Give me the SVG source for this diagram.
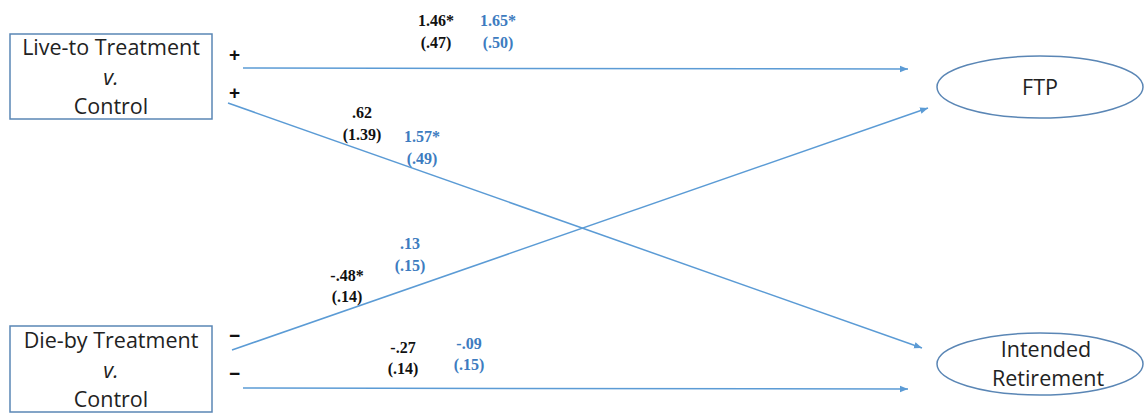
<svg xmlns="http://www.w3.org/2000/svg" width="1146" height="413" viewBox="0 0 1146 413">
<defs>
<style>
.box{fill:#fff;stroke:#5a86b5;stroke-width:1.5}
.lbl{font-family:"Open Sans","Liberation Sans",sans-serif;font-size:21.5px;fill:#222;text-anchor:middle}
.num{font-family:"Liberation Serif",serif;font-size:16px;font-weight:bold;text-anchor:middle;fill:#111}
.blue{fill:#3d7cc0}
.sign{font-family:"Liberation Sans",sans-serif;font-size:19px;font-weight:bold;fill:#111}
.edge{stroke:#5b9bd5;stroke-width:1.5;fill:none;marker-end:url(#ah)}
</style>
<marker id="ah" viewBox="0 0 10 10" refX="10" refY="5" markerWidth="8" markerHeight="8" orient="auto" markerUnits="userSpaceOnUse"><path d="M0,1 L10,5 L0,9 z" fill="#5b9bd5"/></marker>
</defs>
<rect width="1146" height="413" fill="#fff"/>
<g id="connectors">
<line class="edge" x1="243" y1="68" x2="908" y2="69"/>
<line class="edge" x1="228" y1="103" x2="922" y2="348"/>
<line class="edge" x1="232" y1="350" x2="928" y2="108"/>
<line class="edge" x1="243" y1="388" x2="908" y2="389"/>
</g>
<g id="live-to">
<rect class="box" x="10" y="34" width="202" height="85"/>
<text class="lbl" x="111" y="55">Live-to Treatment</text>
<text class="lbl" x="111" y="85" font-style="italic">v.</text>
<text class="lbl" x="111" y="114">Control</text>
</g>
<g id="die-by">
<rect class="box" x="10" y="326" width="202" height="86"/>
<text class="lbl" x="111" y="348">Die-by Treatment</text>
<text class="lbl" x="111" y="378" font-style="italic">v.</text>
<text class="lbl" x="111" y="407">Control</text>
</g>
<g id="ftp">
<ellipse class="box" cx="1040" cy="87" rx="103" ry="31"/>
<text class="lbl" x="1040" y="95">FTP</text>
</g>
<g id="retirement">
<ellipse class="box" cx="1040" cy="364" rx="103" ry="31"/>
<text class="lbl" x="1046" y="357">Intended</text>
<text class="lbl" x="1048" y="386">Retirement</text>
</g>
<g id="signs">
<text class="sign" x="229" y="61">+</text>
<text class="sign" x="229" y="99">+</text>
<text class="sign" x="229" y="342">−</text>
<text class="sign" x="229" y="380">−</text>
</g>
<g id="coefficients">
<text class="num" x="436" y="26">1.46*</text>
<text class="num" x="436" y="48">(.47)</text>
<text class="num blue" x="498" y="26">1.65*</text>
<text class="num blue" x="498" y="48">(.50)</text>
<text class="num" x="362" y="118">.62</text>
<text class="num" x="362" y="140">(1.39)</text>
<text class="num blue" x="422" y="142">1.57*</text>
<text class="num blue" x="422" y="164">(.49)</text>
<text class="num blue" x="410" y="249">.13</text>
<text class="num blue" x="410" y="271">(.15)</text>
<text class="num" x="347" y="281">-.48*</text>
<text class="num" x="347" y="302">(.14)</text>
<text class="num" x="403" y="353">-.27</text>
<text class="num" x="403" y="374">(.14)</text>
<text class="num blue" x="469" y="349">-.09</text>
<text class="num blue" x="469" y="370">(.15)</text>
</g>
</svg>
